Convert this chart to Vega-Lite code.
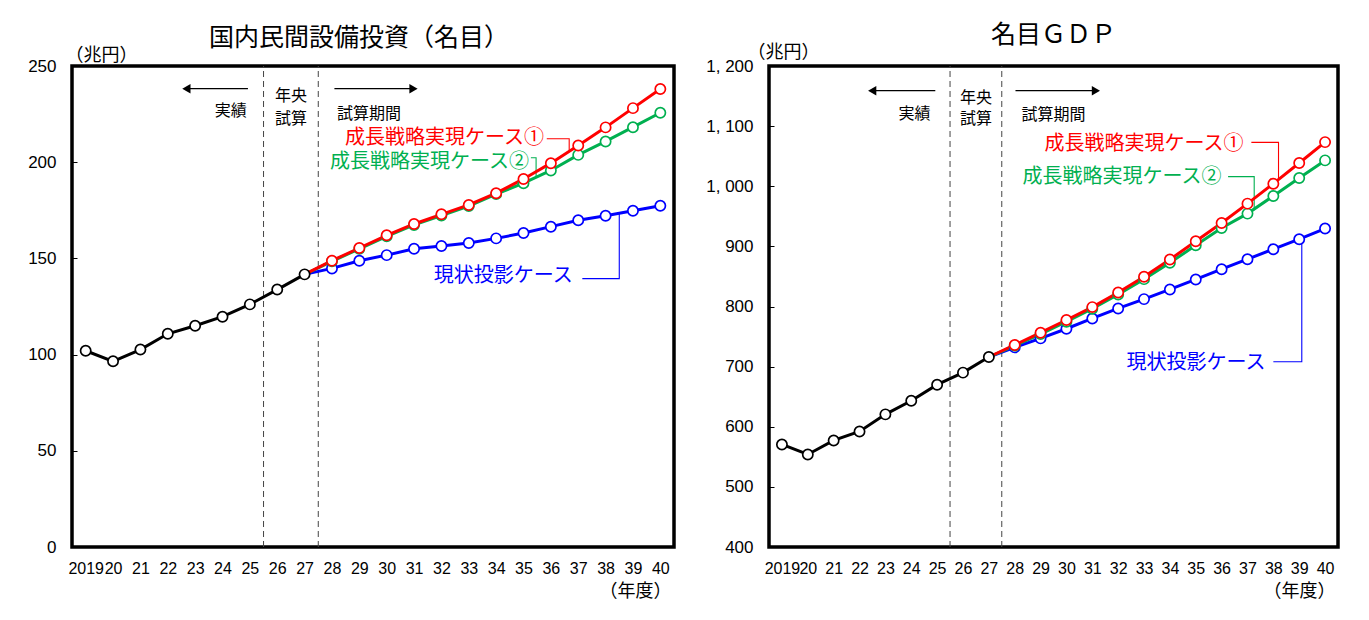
{
  "$schema": "https://vega.github.io/schema/vega-lite/v6.json",
  "padding": {"left": 0, "top": 21, "right": 0, "bottom": 0},
  "background": "white",
  "spacing": 27,
  "datasets": {
    "inv": [
      {"x": 2027, "y": 141.7, "s": "現状投影ケース"},
      {"x": 2028, "y": 144.8, "s": "現状投影ケース"},
      {"x": 2029, "y": 148.8, "s": "現状投影ケース"},
      {"x": 2030, "y": 151.7, "s": "現状投影ケース"},
      {"x": 2031, "y": 155.0, "s": "現状投影ケース"},
      {"x": 2032, "y": 156.4, "s": "現状投影ケース"},
      {"x": 2033, "y": 158.0, "s": "現状投影ケース"},
      {"x": 2034, "y": 160.4, "s": "現状投影ケース"},
      {"x": 2035, "y": 163.2, "s": "現状投影ケース"},
      {"x": 2036, "y": 166.5, "s": "現状投影ケース"},
      {"x": 2037, "y": 169.8, "s": "現状投影ケース"},
      {"x": 2038, "y": 172.2, "s": "現状投影ケース"},
      {"x": 2039, "y": 174.8, "s": "現状投影ケース"},
      {"x": 2040, "y": 177.4, "s": "現状投影ケース"},
      {"x": 2027, "y": 141.7, "s": "成長戦略実現ケース②"},
      {"x": 2028, "y": 148.5, "s": "成長戦略実現ケース②"},
      {"x": 2029, "y": 155.0, "s": "成長戦略実現ケース②"},
      {"x": 2030, "y": 161.5, "s": "成長戦略実現ケース②"},
      {"x": 2031, "y": 167.4, "s": "成長戦略実現ケース②"},
      {"x": 2032, "y": 172.3, "s": "成長戦略実現ケース②"},
      {"x": 2033, "y": 177.2, "s": "成長戦略実現ケース②"},
      {"x": 2034, "y": 183.4, "s": "成長戦略実現ケース②"},
      {"x": 2035, "y": 189.1, "s": "成長戦略実現ケース②"},
      {"x": 2036, "y": 195.7, "s": "成長戦略実現ケース②"},
      {"x": 2037, "y": 203.8, "s": "成長戦略実現ケース②"},
      {"x": 2038, "y": 210.8, "s": "成長戦略実現ケース②"},
      {"x": 2039, "y": 218.2, "s": "成長戦略実現ケース②"},
      {"x": 2040, "y": 225.7, "s": "成長戦略実現ケース②"},
      {"x": 2027, "y": 141.7, "s": "成長戦略実現ケース①"},
      {"x": 2028, "y": 148.8, "s": "成長戦略実現ケース①"},
      {"x": 2029, "y": 155.4, "s": "成長戦略実現ケース①"},
      {"x": 2030, "y": 162.0, "s": "成長戦略実現ケース①"},
      {"x": 2031, "y": 167.9, "s": "成長戦略実現ケース①"},
      {"x": 2032, "y": 172.9, "s": "成長戦略実現ケース①"},
      {"x": 2033, "y": 177.8, "s": "成長戦略実現ケース①"},
      {"x": 2034, "y": 183.9, "s": "成長戦略実現ケース①"},
      {"x": 2035, "y": 191.3, "s": "成長戦略実現ケース①"},
      {"x": 2036, "y": 199.5, "s": "成長戦略実現ケース①"},
      {"x": 2037, "y": 208.7, "s": "成長戦略実現ケース①"},
      {"x": 2038, "y": 218.1, "s": "成長戦略実現ケース①"},
      {"x": 2039, "y": 228.1, "s": "成長戦略実現ケース①"},
      {"x": 2040, "y": 238.0, "s": "成長戦略実現ケース①"},
      {"x": 2019, "y": 102.0, "s": "実績"},
      {"x": 2020, "y": 96.5, "s": "実績"},
      {"x": 2021, "y": 102.6, "s": "実績"},
      {"x": 2022, "y": 110.8, "s": "実績"},
      {"x": 2023, "y": 115.0, "s": "実績"},
      {"x": 2024, "y": 119.7, "s": "実績"},
      {"x": 2025, "y": 126.1, "s": "実績"},
      {"x": 2026, "y": 133.8, "s": "実績"},
      {"x": 2027, "y": 141.7, "s": "実績"}
    ],
    "gdp": [
      {"x": 2027, "y": 716, "s": "現状投影ケース"},
      {"x": 2028, "y": 732, "s": "現状投影ケース"},
      {"x": 2029, "y": 747, "s": "現状投影ケース"},
      {"x": 2030, "y": 763, "s": "現状投影ケース"},
      {"x": 2031, "y": 780.2, "s": "現状投影ケース"},
      {"x": 2032, "y": 796.8, "s": "現状投影ケース"},
      {"x": 2033, "y": 812.3, "s": "現状投影ケース"},
      {"x": 2034, "y": 828.4, "s": "現状投影ケース"},
      {"x": 2035, "y": 845, "s": "現状投影ケース"},
      {"x": 2036, "y": 862.1, "s": "現状投影ケース"},
      {"x": 2037, "y": 878.7, "s": "現状投影ケース"},
      {"x": 2038, "y": 895.3, "s": "現状投影ケース"},
      {"x": 2039, "y": 911.9, "s": "現状投影ケース"},
      {"x": 2040, "y": 929.6, "s": "現状投影ケース"},
      {"x": 2027, "y": 716, "s": "成長戦略実現ケース②"},
      {"x": 2028, "y": 734.9, "s": "成長戦略実現ケース②"},
      {"x": 2029, "y": 754.2, "s": "成長戦略実現ケース②"},
      {"x": 2030, "y": 774.7, "s": "成長戦略実現ケース②"},
      {"x": 2031, "y": 796.3, "s": "成長戦略実現ケース②"},
      {"x": 2032, "y": 820, "s": "成長戦略実現ケース②"},
      {"x": 2033, "y": 845.5, "s": "成長戦略実現ケース②"},
      {"x": 2034, "y": 872.6, "s": "成長戦略実現ケース②"},
      {"x": 2035, "y": 901.9, "s": "成長戦略実現ケース②"},
      {"x": 2036, "y": 930.7, "s": "成長戦略実現ケース②"},
      {"x": 2037, "y": 954.5, "s": "成長戦略実現ケース②"},
      {"x": 2038, "y": 983.8, "s": "成長戦略実現ケース②"},
      {"x": 2039, "y": 1013.7, "s": "成長戦略実現ケース②"},
      {"x": 2040, "y": 1043, "s": "成長戦略実現ケース②"},
      {"x": 2027, "y": 716, "s": "成長戦略実現ケース①"},
      {"x": 2028, "y": 736, "s": "成長戦略実現ケース①"},
      {"x": 2029, "y": 756.4, "s": "成長戦略実現ケース①"},
      {"x": 2030, "y": 777.5, "s": "成長戦略実現ケース①"},
      {"x": 2031, "y": 799, "s": "成長戦略実現ケース①"},
      {"x": 2032, "y": 823.4, "s": "成長戦略実現ケース①"},
      {"x": 2033, "y": 849.4, "s": "成長戦略実現ケース①"},
      {"x": 2034, "y": 878.1, "s": "成長戦略実現ケース①"},
      {"x": 2035, "y": 908.6, "s": "成長戦略実現ケース①"},
      {"x": 2036, "y": 939, "s": "成長戦略実現ケース①"},
      {"x": 2037, "y": 971.1, "s": "成長戦略実現ケース①"},
      {"x": 2038, "y": 1004.3, "s": "成長戦略実現ケース①"},
      {"x": 2039, "y": 1038.6, "s": "成長戦略実現ケース①"},
      {"x": 2040, "y": 1073.4, "s": "成長戦略実現ケース①"},
      {"x": 2019, "y": 570.6, "s": "実績"},
      {"x": 2020, "y": 553.9, "s": "実績"},
      {"x": 2021, "y": 577.2, "s": "実績"},
      {"x": 2022, "y": 592.2, "s": "実績"},
      {"x": 2023, "y": 620.6, "s": "実績"},
      {"x": 2024, "y": 643.3, "s": "実績"},
      {"x": 2025, "y": 670, "s": "実績"},
      {"x": 2026, "y": 690, "s": "実績"},
      {"x": 2027, "y": 716, "s": "実績"}
    ],
    "invDash": [{"x": 2025.5, "y": 0, "y2": 250}, {"x": 2027.5, "y": 0, "y2": 250}],
    "gdpDash": [{"x": 2025.5, "y": 400, "y2": 1200}, {"x": 2027.5, "y": 400, "y2": 1200}],
    "invArrow": [
      {"x": 2022.68, "x2": 2024.93, "y": 238.2},
      {"x": 2028.09, "x2": 2030.98, "y": 238.2}
    ],
    "invHead": [
      {"x": 2022.68, "y": 238.2, "shape": "triangle-left"},
      {"x": 2030.98, "y": 238.2, "shape": "triangle-right"}
    ],
    "gdpArrow": [
      {"x": 2022.49, "x2": 2024.93, "y": 1159},
      {"x": 2028.03, "x2": 2031.14, "y": 1159}
    ],
    "gdpHead": [
      {"x": 2022.49, "y": 1159, "shape": "triangle-left"},
      {"x": 2031.14, "y": 1159, "shape": "triangle-right"}
    ],
    "invNote": [
      {"x": 2024.3, "y": 226.6, "t": "実績"},
      {"x": 2026.5, "y": 234.4, "t": "年央"},
      {"x": 2026.5, "y": 222.4, "t": "試算"},
      {"x": 2029.35, "y": 225, "t": "試算期間"}
    ],
    "gdpNote": [
      {"x": 2024.13, "y": 1120, "t": "実績"},
      {"x": 2026.5, "y": 1146.5, "t": "年央"},
      {"x": 2026.5, "y": 1112.5, "t": "試算"},
      {"x": 2029.5, "y": 1118, "t": "試算期間"}
    ],
    "invLabel": [
      {"x": 2035.75, "y": 212.6, "s": "成長戦略実現ケース①"},
      {"x": 2035.2, "y": 200.0, "s": "成長戦略実現ケース②"},
      {"x": 2036.8, "y": 141, "s": "現状投影ケース"}
    ],
    "gdpLabel": [
      {"x": 2036.85, "y": 1070.7, "s": "成長戦略実現ケース①"},
      {"x": 2036.0, "y": 1015, "s": "成長戦略実現ケース②"},
      {"x": 2037.7, "y": 705.5, "s": "現状投影ケース"}
    ],
    "invLeader": [
      {"x": 2035.85, "y": 212.2, "s": "成長戦略実現ケース①", "o": 1},
      {"x": 2036.67, "y": 212.2, "s": "成長戦略実現ケース①", "o": 2},
      {"x": 2036.67, "y": 205.5, "s": "成長戦略実現ケース①", "o": 3},
      {"x": 2035.27, "y": 202.3, "s": "成長戦略実現ケース②", "o": 1},
      {"x": 2035.46, "y": 202.3, "s": "成長戦略実現ケース②", "o": 2},
      {"x": 2035.46, "y": 192.5, "s": "成長戦略実現ケース②", "o": 3},
      {"x": 2037.15, "y": 139.5, "s": "現状投影ケース", "o": 1},
      {"x": 2038.5, "y": 139.5, "s": "現状投影ケース", "o": 2},
      {"x": 2038.5, "y": 173.3, "s": "現状投影ケース", "o": 3}
    ],
    "gdpLeader": [
      {"x": 2037.15, "y": 1073, "s": "成長戦略実現ケース①", "o": 1},
      {"x": 2038.2, "y": 1073, "s": "成長戦略実現ケース①", "o": 2},
      {"x": 2038.2, "y": 1010, "s": "成長戦略実現ケース①", "o": 3},
      {"x": 2036.25, "y": 1016, "s": "成長戦略実現ケース②", "o": 1},
      {"x": 2037.26, "y": 1016, "s": "成長戦略実現ケース②", "o": 2},
      {"x": 2037.26, "y": 962, "s": "成長戦略実現ケース②", "o": 3},
      {"x": 2038.0, "y": 708, "s": "現状投影ケース", "o": 1},
      {"x": 2039.1, "y": 708, "s": "現状投影ケース", "o": 2},
      {"x": 2039.1, "y": 913, "s": "現状投影ケース", "o": 3}
    ]
  },
  "hconcat": [
    {
      "width": 602,
      "height": 481,
      "title": {"text": "国内民間設備投資（名目）", "fontSize": 25, "font": "Noto Sans CJK JP", "fontWeight": "normal", "dx": -14, "offset": -5},
      "encoding": {
        "x": {
          "field": "x", "type": "quantitative",
          "scale": {"domain": [2018.5, 2040.5], "nice": false, "zero": false},
          "axis": {
            "values": [2019, 2020, 2021, 2022, 2023, 2024, 2025, 2026, 2027, 2028, 2029, 2030, 2031, 2032, 2033, 2034, 2035, 2036, 2037, 2038, 2039, 2040],
            "labelExpr": "datum.value == 2019 ? '2019' : substring(toString(datum.value), 2, 4)",
            "title": "（年度）", "titleX": 599, "titleY": 44, "titleAlign": "right", "titleBaseline": "middle", "titleAngle": 0
          }
        },
        "y": {
          "field": "y", "type": "quantitative",
          "scale": {"domain": [0, 250], "nice": false},
          "axis": {
            "values": [0, 50, 100, 150, 200, 250],
            "minExtent": 70, "maxExtent": 70,
            "title": "（兆円）", "titleX": -7, "titleY": -11, "titleAlign": "left", "titleBaseline": "middle", "titleAngle": 0
          }
        }
      },
      "layer": [
        {
          "data": {"name": "invDash"},
          "mark": {"type": "rule", "color": "#444", "strokeWidth": 1, "strokeDash": [6, 4]},
          "encoding": {"y2": {"field": "y2"}}
        },
        {
          "data": {"name": "invArrow"},
          "mark": {"type": "rule", "color": "black", "strokeWidth": 1.3},
          "encoding": {"x2": {"field": "x2"}}
        },
        {
          "data": {"name": "invHead"},
          "mark": {"type": "point", "filled": true, "color": "black", "size": 90, "opacity": 1},
          "encoding": {"shape": {"field": "shape", "type": "nominal", "scale": null}}
        },
        {
          "data": {"name": "invNote"},
          "mark": {"type": "text", "font": "Noto Sans CJK JP", "fontSize": 16, "color": "black", "align": "center", "baseline": "middle"},
          "encoding": {"text": {"field": "t"}}
        },
        {
          "data": {"name": "invLabel"},
          "mark": {"type": "text", "font": "Noto Sans CJK JP", "fontSize": 20, "align": "right", "baseline": "middle"},
          "encoding": {
            "text": {"field": "s"},
            "color": {"field": "s", "type": "nominal", "legend": null, "scale": {"domain": ["実績", "成長戦略実現ケース①", "成長戦略実現ケース②", "現状投影ケース"], "range": ["#000000", "#FF0000", "#00B050", "#0000FF"]}}
          }
        },
        {
          "data": {"name": "invLeader"},
          "mark": {"type": "line", "strokeWidth": 1.1},
          "encoding": {
            "order": {"field": "o"},
            "color": {"field": "s", "type": "nominal", "legend": null, "scale": {"domain": ["実績", "成長戦略実現ケース①", "成長戦略実現ケース②", "現状投影ケース"], "range": ["#000000", "#FF0000", "#00B050", "#0000FF"]}}
          }
        },
        {
          "data": {"name": "inv"},
          "mark": {"type": "line", "strokeWidth": 3},
          "encoding": {
            "color": {"field": "s", "type": "nominal", "legend": null, "sort": null, "scale": {"domain": ["実績", "成長戦略実現ケース①", "成長戦略実現ケース②", "現状投影ケース"], "range": ["#000000", "#FF0000", "#00B050", "#0000FF"]}}
          }
        },
        {
          "data": {"name": "inv"},
          "transform": [{"filter": "datum.s == '実績' || datum.x >= 2028"}],
          "mark": {"type": "point", "shape": "circle", "filled": true, "fill": "white", "size": 105, "strokeWidth": 1.7, "opacity": 1},
          "encoding": {
            "stroke": {"field": "s", "type": "nominal", "legend": null, "scale": {"domain": ["実績", "成長戦略実現ケース①", "成長戦略実現ケース②", "現状投影ケース"], "range": ["#000000", "#FF0000", "#00B050", "#0000FF"]}}
          }
        }
      ]
    },
    {
      "width": 569,
      "height": 481,
      "title": {"text": "名目ＧＤＰ", "fontSize": 25, "font": "Noto Sans CJK JP", "fontWeight": "normal", "offset": -5},
      "encoding": {
        "x": {
          "field": "x", "type": "quantitative",
          "scale": {"domain": [2018.5, 2040.5], "nice": false, "zero": false},
          "axis": {
            "values": [2019, 2020, 2021, 2022, 2023, 2024, 2025, 2026, 2027, 2028, 2029, 2030, 2031, 2032, 2033, 2034, 2035, 2036, 2037, 2038, 2039, 2040],
            "labelExpr": "datum.value == 2019 ? '2019' : substring(toString(datum.value), 2, 4)",
            "title": "（年度）", "titleX": 566, "titleY": 44, "titleAlign": "right", "titleBaseline": "middle", "titleAngle": 0
          }
        },
        "y": {
          "field": "y", "type": "quantitative",
          "scale": {"domain": [400, 1200], "nice": false, "zero": false},
          "axis": {
            "values": [400, 500, 600, 700, 800, 900, 1000, 1100, 1200],
            "labelExpr": "replace(format(datum.value, ',d'), ',', ', ')",
            "minExtent": 62, "maxExtent": 62,
            "title": "（兆円）", "titleX": -22, "titleY": -14, "titleAlign": "left", "titleBaseline": "middle", "titleAngle": 0
          }
        }
      },
      "layer": [
        {
          "data": {"name": "gdpDash"},
          "mark": {"type": "rule", "color": "#444", "strokeWidth": 1, "strokeDash": [6, 4]},
          "encoding": {"y2": {"field": "y2"}}
        },
        {
          "data": {"name": "gdpArrow"},
          "mark": {"type": "rule", "color": "black", "strokeWidth": 1.3},
          "encoding": {"x2": {"field": "x2"}}
        },
        {
          "data": {"name": "gdpHead"},
          "mark": {"type": "point", "filled": true, "color": "black", "size": 90, "opacity": 1},
          "encoding": {"shape": {"field": "shape", "type": "nominal", "scale": null}}
        },
        {
          "data": {"name": "gdpNote"},
          "mark": {"type": "text", "font": "Noto Sans CJK JP", "fontSize": 16, "color": "black", "align": "center", "baseline": "middle"},
          "encoding": {"text": {"field": "t"}}
        },
        {
          "data": {"name": "gdpLabel"},
          "mark": {"type": "text", "font": "Noto Sans CJK JP", "fontSize": 20, "align": "right", "baseline": "middle"},
          "encoding": {
            "text": {"field": "s"},
            "color": {"field": "s", "type": "nominal", "legend": null, "scale": {"domain": ["実績", "成長戦略実現ケース①", "成長戦略実現ケース②", "現状投影ケース"], "range": ["#000000", "#FF0000", "#00B050", "#0000FF"]}}
          }
        },
        {
          "data": {"name": "gdpLeader"},
          "mark": {"type": "line", "strokeWidth": 1.1},
          "encoding": {
            "order": {"field": "o"},
            "color": {"field": "s", "type": "nominal", "legend": null, "scale": {"domain": ["実績", "成長戦略実現ケース①", "成長戦略実現ケース②", "現状投影ケース"], "range": ["#000000", "#FF0000", "#00B050", "#0000FF"]}}
          }
        },
        {
          "data": {"name": "gdp"},
          "mark": {"type": "line", "strokeWidth": 3},
          "encoding": {
            "color": {"field": "s", "type": "nominal", "legend": null, "sort": null, "scale": {"domain": ["実績", "成長戦略実現ケース①", "成長戦略実現ケース②", "現状投影ケース"], "range": ["#000000", "#FF0000", "#00B050", "#0000FF"]}}
          }
        },
        {
          "data": {"name": "gdp"},
          "transform": [{"filter": "datum.s == '実績' || datum.x >= 2028"}],
          "mark": {"type": "point", "shape": "circle", "filled": true, "fill": "white", "size": 105, "strokeWidth": 1.7, "opacity": 1},
          "encoding": {
            "stroke": {"field": "s", "type": "nominal", "legend": null, "scale": {"domain": ["実績", "成長戦略実現ケース①", "成長戦略実現ケース②", "現状投影ケース"], "range": ["#000000", "#FF0000", "#00B050", "#0000FF"]}}
          }
        }
      ]
    }
  ],
  "resolve": {"scale": {"x": "independent", "y": "independent"}},
  "config": {
    "view": {"stroke": "black", "strokeWidth": 3.5},
    "axis": {
      "domain": false, "grid": false, "ticks": false, "tickSize": 0,
      "labelFont": "Liberation Sans", "labelFontSize": 17, "labelColor": "#000",
      "labelOverlap": false, "labelBound": false, "labelFlush": false,
      "titleFont": "Noto Sans CJK JP", "titleFontSize": 18, "titleFontWeight": "normal", "titleColor": "#000"
    },
    "axisX": {"labelFontSize": 16, "labelPadding": 13},
    "axisY": {"ticks": true, "tickSize": -5, "tickColor": "#000", "tickWidth": 1, "labelPadding": 21},
    "title": {"color": "#000", "anchor": "middle"}
  }
}
